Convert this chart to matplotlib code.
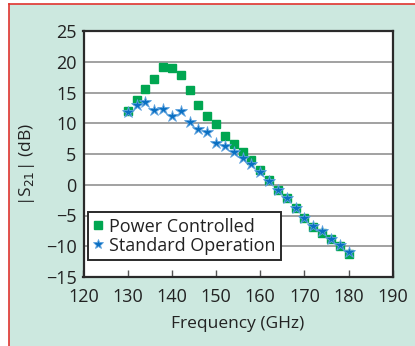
import matplotlib.pyplot as plt
from matplotlib.patches import Rectangle

# Datos
freq = [130, 132, 134, 136, 138, 140, 142, 144, 146, 148, 150, 152, 154,
        156, 158, 160, 162, 164, 166, 168, 170, 172, 174, 176, 178, 180]
power_controlled = [12.0, 13.8, 15.6, 17.2, 19.2, 19.0, 17.85, 15.4, 13.0, 11.2,
                    9.8, 8.0, 6.6, 5.3, 4.0, 2.4, 0.8, -0.85, -2.2, -3.8,
                    -5.4, -6.8, -7.8, -8.9, -10.0, -11.2]
standard_operation = [11.9, 13.0, 13.5, 12.1, 12.3, 11.1, 12.0, 10.25, 9.1, 8.5,
                      6.85, 6.3, 5.3, 4.4, 3.4, 2.0, 0.6, -0.85, -2.2, -3.7,
                      -5.4, -6.7, -7.5, -8.8, -9.85, -11.0]
xticks = [120, 130, 140, 150, 160, 170, 180, 190]
yticks = [-15, -10, -5, 0, 5, 10, 15, 20, 25]

plt.rcParams['font.family'] = ['Open Sans', 'DejaVu Sans']

W, H = 415, 346
fig = plt.figure(figsize=(W / 100, H / 100), dpi=100, facecolor='white')

# Fondo verde con borde rojo arriba e izquierda
fig.add_artist(Rectangle((9 / W, 0), 1, 1 - 4 / H, transform=fig.transFigure,
                         facecolor='#cce8df', edgecolor='none', zorder=-10))
fig.add_artist(plt.Line2D([9 / W, 9 / W], [0, 1 - 4 / H], transform=fig.transFigure,
                          color='#e0342f', lw=1.2, zorder=-9))
fig.add_artist(plt.Line2D([9 / W, 1], [1 - 4 / H, 1 - 4 / H], transform=fig.transFigure,
                          color='#e0342f', lw=1.2, zorder=-9))

ax = fig.add_axes([83.5 / W, (H - 277) / H, (392.7 - 83.5) / W, (277 - 31) / H])
ax.set_facecolor('white')

ax.plot(freq, power_controlled, linestyle='none', marker='s', markersize=6,
        color='#00a651', markeredgecolor='#00a651', label='Power Controlled', zorder=3)
ax.plot(freq, standard_operation, linestyle='none', marker='*', markersize=9,
        color='#0a6fc2', markeredgecolor='#5fa3de', markeredgewidth=0.6,
        label='Standard Operation', zorder=4)

ax.set_xlim(120, 190)
ax.set_ylim(-15, 25)
ax.set_xticks(xticks)
ax.set_yticks(yticks)
ax.set_yticklabels([str(v).replace('-', '\u2212') for v in yticks])
ax.tick_params(axis='x', direction='in', length=5, width=1, color='#555555',
               labelsize=13, pad=8, labelcolor='#222222')
ax.tick_params(axis='y', length=0, labelsize=13, pad=5, labelcolor='#222222')
ax.grid(axis='y', color='#9a9a9a', lw=1.3)
ax.set_axisbelow(True)
for s in ax.spines.values():
    s.set_color('#2a2a2a')
    s.set_linewidth(1.6)

ax.set_xlabel('Frequency (GHz)', fontsize=12.5, labelpad=7, color='#222222')
ax.set_ylabel('|S$_{21}$| (dB)', fontsize=12.5, labelpad=4, color='#222222')
ax.yaxis.set_label_coords(-0.15, 0.455)

leg = ax.legend(loc='lower left', bbox_to_anchor=(0.014, 0.069), fontsize=13,
                handlelength=0.55, handletextpad=0.3, borderpad=0.3,
                labelspacing=0.05, fancybox=False, framealpha=1, borderaxespad=0,
                markerscale=0.85)
leg.get_frame().set_edgecolor('#2a2a2a')
leg.get_frame().set_linewidth(1.4)
for t in leg.get_texts():
    t.set_color('#222222')

fig.savefig('out.png', dpi=100, facecolor=fig.get_facecolor())
